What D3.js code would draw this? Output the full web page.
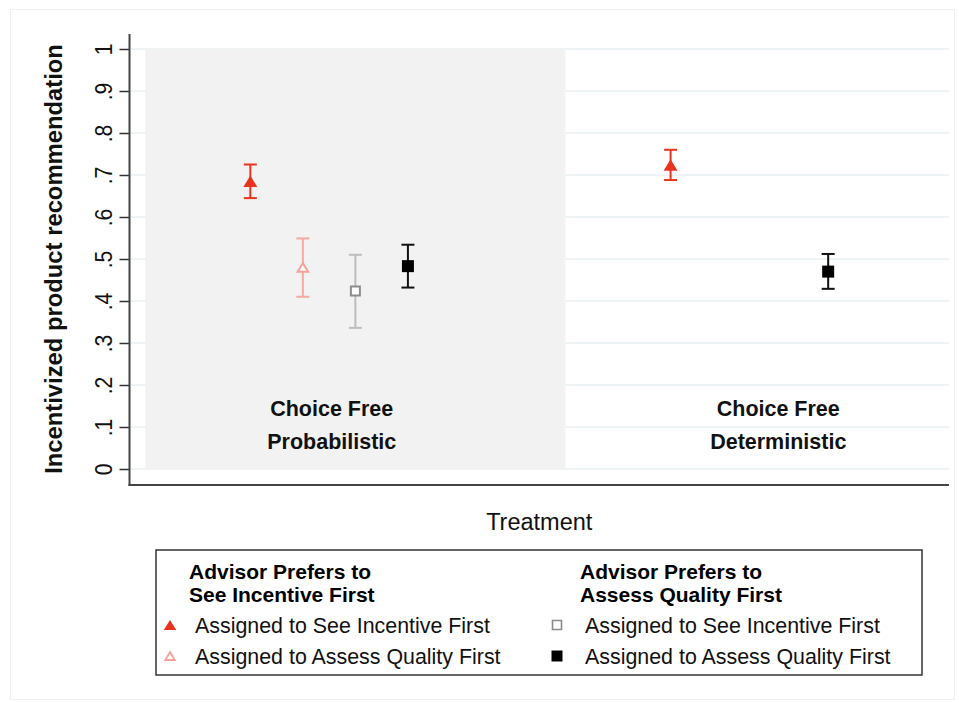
<!DOCTYPE html>
<html>
<head>
<meta charset="utf-8">
<script src="https://cdn.jsdelivr.net/npm/d3@7"></script>
<style>
  html, body { margin: 0; padding: 0; background: #fff; }
  svg { display: block; font-family: "Liberation Sans", Arial, Helvetica, sans-serif; }
</style>
</head>
<body>
<svg id="chart" width="959" height="702"></svg>
<script>
// ---- data ----------------------------------------------------------------
const panelTitle = "Choice Free";
const panels = ["Probabilistic", "Deterministic"];
const panelLabelX = [2.55, 11.05];          // x position (slot units) of panel captions
const shadedSpan = [-1, 7];                  // slot span of the shaded Probabilistic panel

const groupTitles = [
  ["Advisor Prefers to", "See Incentive First"],
  ["Advisor Prefers to", "Assess Quality First"]
];
const seriesLabels = [
  "Assigned to See Incentive First",
  "Assigned to Assess Quality First",
  "Assigned to See Incentive First",
  "Assigned to Assess Quality First"
];

// one entry per estimate
const xSlot   = [1, 2, 3, 4, 9, 12];
const seriesOf = [0, 1, 2, 3, 0, 3];
const means   = [0.685, 0.480, 0.424, 0.483, 0.724, 0.470];
const ciLow   = [0.645, 0.410, 0.336, 0.432, 0.688, 0.429];
const ciHigh  = [0.725, 0.549, 0.510, 0.534, 0.760, 0.512];

const yTicks = [0, 0.1, 0.2, 0.3, 0.4, 0.5, 0.6, 0.7, 0.8, 0.9, 1];

const xTitle = "Treatment";
const yTitle = "Incentivized product recommendation";

// ---- styles --------------------------------------------------------------
const markerFill   = ["#e9331f", "#ffffff", "#ffffff", "#000000"];
const markerStroke = ["#e9331f", "#f4a29a", "#8c8c8c", "#000000"];
const barColor     = ["#e9331f", "#f5aaa3", "#bdbdbd", "#111111"];
const markerShape  = ["triangle", "triangle", "square", "square"];

// ---- layout --------------------------------------------------------------
const svg = d3.select("#chart");
const plot = { left: 129.5, right: 949, top: 34, bottom: 485 };

const x = d3.scaleLinear().domain([-1.3, 14.3]).range([plot.left, plot.right]);
const y = d3.scaleLinear().domain([0, 1]).range([469, 49]);

// faint outer frame
svg.append("rect")
  .attr("x", 10.5).attr("y", 9.5).attr("width", 944).attr("height", 690)
  .attr("fill", "none").attr("stroke", "#f0f0f0").attr("stroke-width", 1);

// gridlines
svg.append("g").selectAll("line").data(yTicks).join("line")
  .attr("x1", plot.left).attr("x2", plot.right)
  .attr("y1", d => y(d)).attr("y2", d => y(d))
  .attr("stroke", "#e9eff2").attr("stroke-width", 1.6);

// shaded panel
svg.append("rect")
  .attr("x", x(shadedSpan[0])).attr("y", y(1))
  .attr("width", x(shadedSpan[1]) - x(shadedSpan[0]))
  .attr("height", y(0) - y(1))
  .attr("fill", "#f2f2f2");

// y axis ticks + labels
const fmt = d => (d === 0 || d === 1) ? String(d) : d3.format(".1f")(d).replace(/^0/, "");
const yAxis = d3.axisLeft(y).tickValues(yTicks).tickFormat(fmt).tickSizeInner(10).tickSizeOuter(0);
const gy = svg.append("g").attr("transform", `translate(${plot.left},0)`).call(yAxis);
gy.select(".domain").remove();
gy.selectAll(".tick line").attr("stroke", "#333").attr("stroke-width", 1.5);
gy.selectAll(".tick text")
  .attr("x", null).attr("dy", null)
  .attr("font-size", 24).attr("fill", "#111")
  .attr("text-anchor", "middle")
  .attr("transform", "translate(-18,0) rotate(-90) scale(0.88,1)");

// axis lines
svg.append("line").attr("x1", plot.left).attr("x2", plot.left)
  .attr("y1", plot.top).attr("y2", plot.bottom + 1)
  .attr("stroke", "#444").attr("stroke-width", 2);
svg.append("line").attr("x1", plot.left - 1).attr("x2", plot.right)
  .attr("y1", plot.bottom).attr("y2", plot.bottom)
  .attr("stroke", "#444").attr("stroke-width", 2);

// axis titles
svg.append("text")
  .attr("transform", `translate(62,${y(0.5)}) rotate(-90)`)
  .attr("text-anchor", "middle").attr("font-size", 23.8).attr("font-weight", "bold")
  .attr("fill", "#111").text(yTitle);
svg.append("text")
  .attr("x", (plot.left + plot.right) / 2).attr("y", 530)
  .attr("text-anchor", "middle").attr("font-size", 23.5).attr("fill", "#111")
  .text(xTitle);

// panel captions
panels.forEach((p, i) => {
  const g = svg.append("g").attr("font-size", 21.5).attr("font-weight", "bold")
    .attr("fill", "#111").attr("text-anchor", "middle");
  g.append("text").attr("x", x(panelLabelX[i])).attr("y", 416).text(panelTitle);
  g.append("text").attr("x", x(panelLabelX[i])).attr("y", 449).text(p);
});

// marker path generator
function markerPath(shape, w, h) {
  if (shape === "triangle") {
    return `M0,${-h / 2}L${w / 2},${h / 2}L${-w / 2},${h / 2}Z`;
  }
  return `M${-w / 2},${-h / 2}H${w / 2}V${h / 2}H${-w / 2}Z`;
}
function markerSize(s) {
  // [width, height, stroke]
  return [[14, 11.5, 0], [10.5, 8.5, 2], [9, 9, 2], [12, 12, 0]][s];
}

// error bars
const est = xSlot.map((d, i) => ({ x: d, s: seriesOf[i], m: means[i], lo: ciLow[i], hi: ciHigh[i] }));
const capW = 6.5;
const bars = svg.append("g").selectAll("g").data(est).join("g")
  .attr("stroke", d => barColor[d.s]).attr("stroke-width", 2).attr("fill", "none");
bars.append("line")
  .attr("x1", d => x(d.x)).attr("x2", d => x(d.x))
  .attr("y1", d => y(d.lo)).attr("y2", d => y(d.hi));
bars.append("line")
  .attr("x1", d => x(d.x) - capW).attr("x2", d => x(d.x) + capW)
  .attr("y1", d => y(d.lo)).attr("y2", d => y(d.lo));
bars.append("line")
  .attr("x1", d => x(d.x) - capW).attr("x2", d => x(d.x) + capW)
  .attr("y1", d => y(d.hi)).attr("y2", d => y(d.hi));

// point markers
svg.append("g").selectAll("path").data(est).join("path")
  .attr("transform", d => `translate(${x(d.x)},${y(d.m)})`)
  .attr("d", d => { const [w, h] = markerSize(d.s); return markerPath(markerShape[d.s], w, h); })
  .attr("fill", d => markerFill[d.s])
  .attr("stroke", d => markerSize(d.s)[2] ? markerStroke[d.s] : "none")
  .attr("stroke-width", d => markerSize(d.s)[2]);

// ---- legend --------------------------------------------------------------
const leg = svg.append("g");
leg.append("rect")
  .attr("x", 156).attr("y", 550).attr("width", 766).attr("height", 125)
  .attr("fill", "#fff").attr("stroke", "#333").attr("stroke-width", 1.5);

const colX = [189, 580];        // header x per column
const textX = [195, 585];       // item text x per column
const symX = [170, 557];        // item symbol x per column
const rowY = [633, 664];        // item baselines
groupTitles.forEach((lines, c) => {
  lines.forEach((t, j) => {
    leg.append("text").attr("x", colX[c]).attr("y", 579 + j * 23)
      .attr("font-size", 21).attr("font-weight", "bold").attr("fill", "#000").text(t);
  });
});
seriesLabels.forEach((lab, s) => {
  const c = s < 2 ? 0 : 1, r = s % 2;
  leg.append("text").attr("x", textX[c]).attr("y", rowY[r])
    .attr("font-size", 21.4).attr("fill", "#111").text(lab);
  const legSize = [[12.5, 10, 0], [9.5, 8, 1.8], [9, 9, 1.6], [11, 11, 0]][s];
  leg.append("path")
    .attr("transform", `translate(${symX[c]},${rowY[r] - 8})`)
    .attr("d", markerPath(markerShape[s], legSize[0], legSize[1]))
    .attr("fill", markerFill[s])
    .attr("stroke", legSize[2] ? markerStroke[s] : "none")
    .attr("stroke-width", legSize[2]);
});
</script>
</body>
</html>
